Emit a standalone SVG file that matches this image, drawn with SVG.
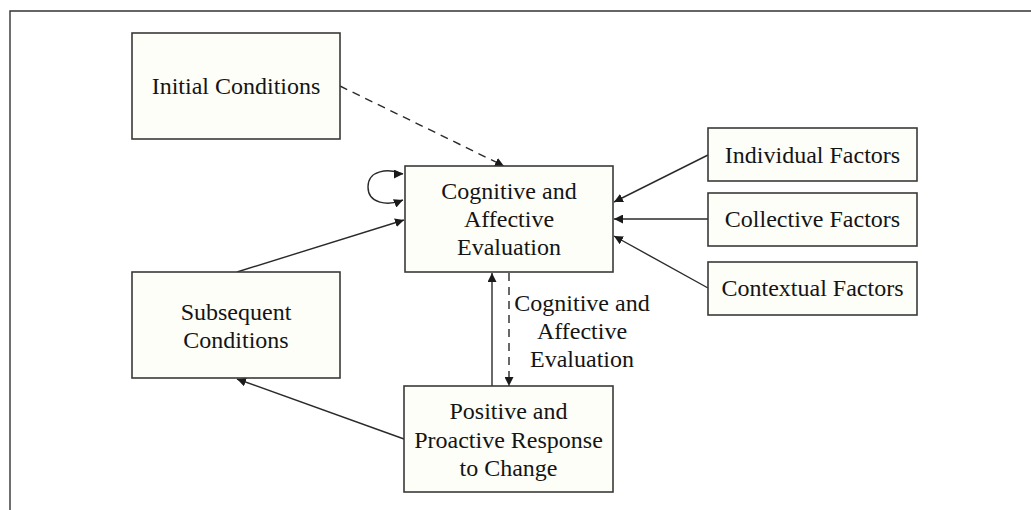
<svg xmlns="http://www.w3.org/2000/svg" width="1031" height="510" viewBox="0 0 1031 510">
<defs>
<style>
.box{fill:#fefef8;stroke:#3a3a3a;stroke-width:1.6}
.t{font-family:"Liberation Serif","Times New Roman",serif;font-size:24px;fill:#141414;text-anchor:middle}
.c{fill:none;stroke:#2a2a2a;stroke-width:1.4}
.d{stroke-dasharray:8,6}
</style>
<marker id="ah" viewBox="0 0 10 10" refX="10" refY="5" markerWidth="9" markerHeight="9" markerUnits="userSpaceOnUse" orient="auto">
<path d="M0,0 L10,5 L0,10 z" fill="#1a1a1a"/>
</marker>
<marker id="ahs" viewBox="0 0 10 10" refX="10" refY="5" markerWidth="9" markerHeight="9" markerUnits="userSpaceOnUse" orient="0">
<path d="M0,0 L10,5 L0,10 z" fill="#1a1a1a"/>
</marker>
</defs>
<rect x="0" y="0" width="1031" height="510" fill="#ffffff"/>
<path d="M10,510 L10,11 L1031,11" fill="none" stroke="#333" stroke-width="1.4"/>
<g id="connectors">
<line class="c d" x1="340" y1="86" x2="504" y2="166" marker-end="url(#ah)"/>
<path class="c" d="M403,174 C388,168 368,170 368,187 C368,204 388,206 403,200" marker-start="url(#ahs)" marker-end="url(#ah)"/>
<line class="c" x1="237" y1="272" x2="404" y2="220" marker-end="url(#ah)"/>
<line class="c" x1="708" y1="155" x2="614" y2="202" marker-end="url(#ah)"/>
<line class="c" x1="708" y1="219" x2="614" y2="219" marker-end="url(#ah)"/>
<line class="c" x1="708" y1="288" x2="614" y2="236" marker-end="url(#ah)"/>
<line class="c" x1="492" y1="386" x2="492" y2="273" marker-end="url(#ah)"/>
<line class="c d" x1="509" y1="273" x2="509" y2="386" marker-end="url(#ah)"/>
<line class="c" x1="404" y1="439" x2="237" y2="379" marker-end="url(#ah)"/>
</g>
<g id="initial">
<rect class="box" x="132" y="33" width="208" height="106"/>
<text class="t" x="236" y="94">Initial Conditions</text>
</g>
<g id="cognitive">
<rect class="box" x="405" y="166" width="208" height="106"/>
<text class="t" x="509" y="199">Cognitive and</text>
<text class="t" x="509" y="227">Affective</text>
<text class="t" x="509" y="255">Evaluation</text>
</g>
<g id="individual">
<rect class="box" x="708" y="128" width="209" height="53"/>
<text class="t" x="812.5" y="163">Individual Factors</text>
</g>
<g id="collective">
<rect class="box" x="708" y="193" width="209" height="53"/>
<text class="t" x="812.5" y="227">Collective Factors</text>
</g>
<g id="contextual">
<rect class="box" x="708" y="262" width="209" height="53"/>
<text class="t" x="812.5" y="296">Contextual Factors</text>
</g>
<g id="subsequent">
<rect class="box" x="132" y="272" width="208" height="106"/>
<text class="t" x="236" y="320">Subsequent</text>
<text class="t" x="236" y="348">Conditions</text>
</g>
<g id="positive">
<rect class="box" x="404" y="386" width="209" height="106"/>
<text class="t" x="508.5" y="419">Positive and</text>
<text class="t" x="508.5" y="448">Proactive Response</text>
<text class="t" x="508.5" y="476">to Change</text>
</g>
<g id="label">
<text class="t" x="582" y="311">Cognitive and</text>
<text class="t" x="582" y="339">Affective</text>
<text class="t" x="582" y="367">Evaluation</text>
</g>
</svg>
